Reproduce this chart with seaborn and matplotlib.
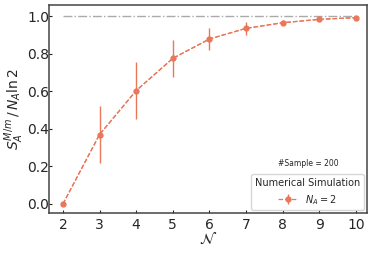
import matplotlib
matplotlib.use("Agg")
import matplotlib.pyplot as plt
import seaborn as sns
import pandas as pd

# values
n_total = [2, 3, 4, 5, 6, 7, 8, 9, 10]
entropy_ratio = [0.0, 0.37, 0.604, 0.776, 0.879, 0.936, 0.966, 0.984, 0.993]
entropy_err = [0.0, 0.152, 0.150, 0.100, 0.058, 0.036, 0.012, 0.006, 0.004]

df = pd.DataFrame({"N": n_total, "S": entropy_ratio, "err": entropy_err})

sns.set_style("ticks")
plt.rcParams['font.family'] = ['DejaVu Sans']
color = "#E9775A"

fig, ax = plt.subplots(figsize=(3.74, 2.54), dpi=100)
ax.hlines(1.0, n_total[0], n_total[-1], colors="#AAAAAA", linestyles="-.", linewidth=1.0, zorder=1)
sns.lineplot(data=df, x="N", y="S", ax=ax, color=color, linestyle="--", linewidth=0.9,
             legend=False)
ax.errorbar(df["N"], df["S"], yerr=df["err"], fmt="o--", color=color, markersize=3.5,
            linewidth=0.9, elinewidth=1.0, label=r"$N_A = 2$")

ax.text(8.7, 0.215, "#Sample = 200", fontsize=5.5, ha="center", va="center")
ax.legend(title="Numerical Simulation", loc="lower right", fontsize=7, title_fontsize=7,
          borderpad=0.4, handlelength=2.0, borderaxespad=0.3)

ax.set_xlim(1.62, 10.3)
ax.set_ylim(-0.05, 1.06)
ax.set_xticks(n_total)
ax.set_yticks([0.0, 0.2, 0.4, 0.6, 0.8, 1.0])
ax.tick_params(direction="in", labelsize=10, length=2.5)
ax.tick_params(axis="y", pad=0)
ax.tick_params(axis="x", pad=3)
ax.set_xlabel(r"$\mathcal{N}$", fontsize=11, labelpad=0)
ax.set_ylabel(r"$S_A^{M/m}\,/\,N_A\ln 2$", fontsize=10, labelpad=1)
for s in ax.spines.values():
    s.set_color("#444444")
    s.set_linewidth(1.1)

fig.subplots_adjust(left=0.131, right=0.981, top=0.98, bottom=0.16)
fig.savefig("out.png", dpi=100)
